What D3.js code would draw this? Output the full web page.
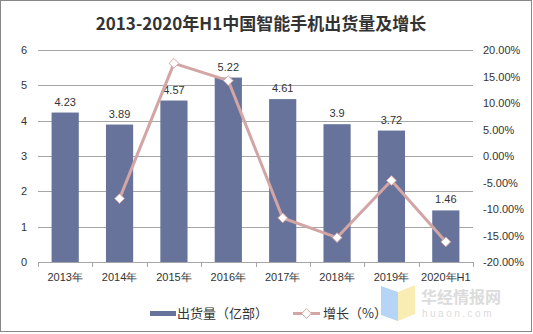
<!DOCTYPE html>
<html>
<head>
<meta charset="utf-8">
<script src="https://cdn.jsdelivr.net/npm/d3@7"></script>
<style>
  body { margin: 0; background: #fff; }
  text { font-family: "Liberation Sans", Arial, sans-serif; }
</style>
</head>
<body>
<div id="chart"></div>
<script>
// datos del gráfico
const years = ["2013年", "2014年", "2015年", "2016年", "2017年", "2018年", "2019年", "2020年H1"];
const shipments = [4.23, 3.89, 4.57, 5.22, 4.61, 3.9, 3.72, 1.46];
const growth = [null, -8.04, 17.48, 14.22, -11.69, -15.4, -4.62, -16.2];
const leftTicks = [0, 1, 2, 3, 4, 5, 6];
const rightTicks = [-20, -15, -10, -5, 0, 5, 10, 15, 20];

const width = 533, height = 334;
const margin = { top: 50, right: 60, bottom: 72, left: 38 };

const svg = d3.select("#chart").append("svg")
    .attr("width", width)
    .attr("height", height);

// marco exterior
svg.append("rect")
    .attr("x", 0.5).attr("y", 0.5)
    .attr("width", width - 2).attr("height", height - 3)
    .attr("fill", "#fff").attr("stroke", "#888");

// título
svg.append("text")
    .attr("x", 261).attr("y", 30)
    .attr("text-anchor", "middle")
    .style("font-family", "'Noto Sans CJK SC', 'DejaVu Serif', serif")
    .style("font-weight", "bold")
    .style("font-size", "17px")
    .attr("fill", "#333")
    .text("2013-2020年H1中国智能手机出货量及增长");

const x0 = margin.left, x1 = width - margin.right;
const y0 = height - margin.bottom, y1 = margin.top;

const x = d3.scaleBand().domain(years).range([x0, x1]).paddingInner(0.5).paddingOuter(0.25);
const y = d3.scaleLinear().domain([0, 6]).range([y0, y1]);
const yr = d3.scaleLinear().domain([-20, 20]).range([y0, y1]);

// líneas de la cuadrícula
svg.append("g").selectAll("line")
    .data(leftTicks.slice(1))
    .enter().append("line")
    .attr("x1", x0).attr("x2", x1)
    .attr("y1", d => Math.round(y(d)) + 0.5)
    .attr("y2", d => Math.round(y(d)) + 0.5)
    .attr("stroke", "#a6a6a6");

// eje izquierdo
svg.append("g").selectAll("text")
    .data(leftTicks)
    .enter().append("text")
    .attr("x", 27).attr("y", d => y(d) + 4)
    .attr("text-anchor", "end")
    .style("font-size", "11px")
    .attr("fill", "#333")
    .text(d => d);

// eje derecho
svg.append("g").selectAll("text")
    .data(rightTicks)
    .enter().append("text")
    .attr("x", 483).attr("y", d => yr(d) + 4)
    .style("font-size", "11px")
    .attr("fill", "#333")
    .text(d => d.toFixed(2) + "%");

// barras
svg.append("g").selectAll("rect")
    .data(shipments)
    .enter().append("rect")
    .attr("x", (d, i) => x(years[i]))
    .attr("y", d => y(d))
    .attr("width", x.bandwidth())
    .attr("height", d => y0 - y(d))
    .attr("fill", "#67739b");

// etiquetas de las barras
svg.append("g").selectAll("text")
    .data(shipments)
    .enter().append("text")
    .attr("x", (d, i) => x(years[i]) + x.bandwidth() / 2)
    .attr("y", d => y(d) - 7)
    .attr("text-anchor", "middle")
    .style("font-size", "11px")
    .attr("fill", "#333")
    .text(d => d);

// eje X
const xAxis = svg.append("g");
xAxis.append("line")
    .attr("x1", x0).attr("x2", x1)
    .attr("y1", y0 + 0.5).attr("y2", y0 + 0.5)
    .attr("stroke", "#a6a6a6");
const step = (x1 - x0) / years.length;
xAxis.selectAll(".tick")
    .data(d3.range(years.length + 1))
    .enter().append("line")
    .attr("x1", i => Math.round(x0 + i * step) + 0.5)
    .attr("x2", i => Math.round(x0 + i * step) + 0.5)
    .attr("y1", y0).attr("y2", y0 + 5)
    .attr("stroke", "#a6a6a6");
xAxis.selectAll("text")
    .data(years)
    .enter().append("text")
    .attr("x", d => x(d) + x.bandwidth() / 2)
    .attr("y", y0 + 19)
    .attr("text-anchor", "middle")
    .style("font-size", "11px")
    .attr("fill", "#333")
    .text(d => d);

// línea de crecimiento
const pts = growth.map((g, i) => ({ g, i })).filter(p => p.g !== null);
const line = d3.line()
    .x(p => x(years[p.i]) + x.bandwidth() / 2)
    .y(p => yr(p.g));
svg.append("path")
    .datum(pts)
    .attr("d", line)
    .attr("fill", "none")
    .attr("stroke", "#d3a5a5")
    .attr("stroke-width", 3);

const diamond = d3.symbol().type(d3.symbolDiamond2).size(60);
svg.append("g").selectAll("path")
    .data(pts)
    .enter().append("path")
    .attr("d", diamond)
    .attr("transform", p => `translate(${x(years[p.i]) + x.bandwidth() / 2},${yr(p.g)})`)
    .attr("fill", "#fff")
    .attr("stroke", "#d3a5a5")
    .attr("stroke-width", 1);

// marca de agua
const wm = svg.append("g").attr("opacity", 0.85);
wm.append("polygon").attr("points", "381,286 398,292 398,321 381,315").attr("fill", "#a9cdf5");
wm.append("polygon").attr("points", "398,292 415,285 415,314 398,321").attr("fill", "#f8eaa8");
wm.append("text").attr("x", 421).attr("y", 303)
    .style("font-family", "'Noto Sans CJK SC', sans-serif")
    .style("font-size", "16px").style("font-weight", "bold")
    .attr("fill", "#d6d6d6").text("华经情报网");
wm.append("text").attr("x", 422).attr("y", 317)
    .style("font-size", "10px").style("letter-spacing", "2.5px")
    .attr("fill", "#d6d6d6").text("huaon.com");

// leyenda
const lg = svg.append("g");
lg.append("rect").attr("x", 150).attr("y", 311).attr("width", 26).attr("height", 5).attr("fill", "#67739b");
lg.append("text").attr("x", 177).attr("y", 318)
    .style("font-family", "'Noto Sans CJK SC', sans-serif")
    .style("font-size", "13px").attr("fill", "#333").text("出货量（亿部）");
lg.append("line").attr("x1", 293).attr("x2", 320).attr("y1", 313.5).attr("y2", 313.5)
    .attr("stroke", "#d3a5a5").attr("stroke-width", 3);
lg.append("path").attr("d", diamond).attr("transform", "translate(306.5,313.5)")
    .attr("fill", "#fff").attr("stroke", "#d3a5a5");
lg.append("text").attr("x", 323).attr("y", 318)
    .style("font-family", "'Noto Sans CJK SC', sans-serif")
    .style("font-size", "13px").attr("fill", "#333").text("增长（%）");
</script>
</body>
</html>
